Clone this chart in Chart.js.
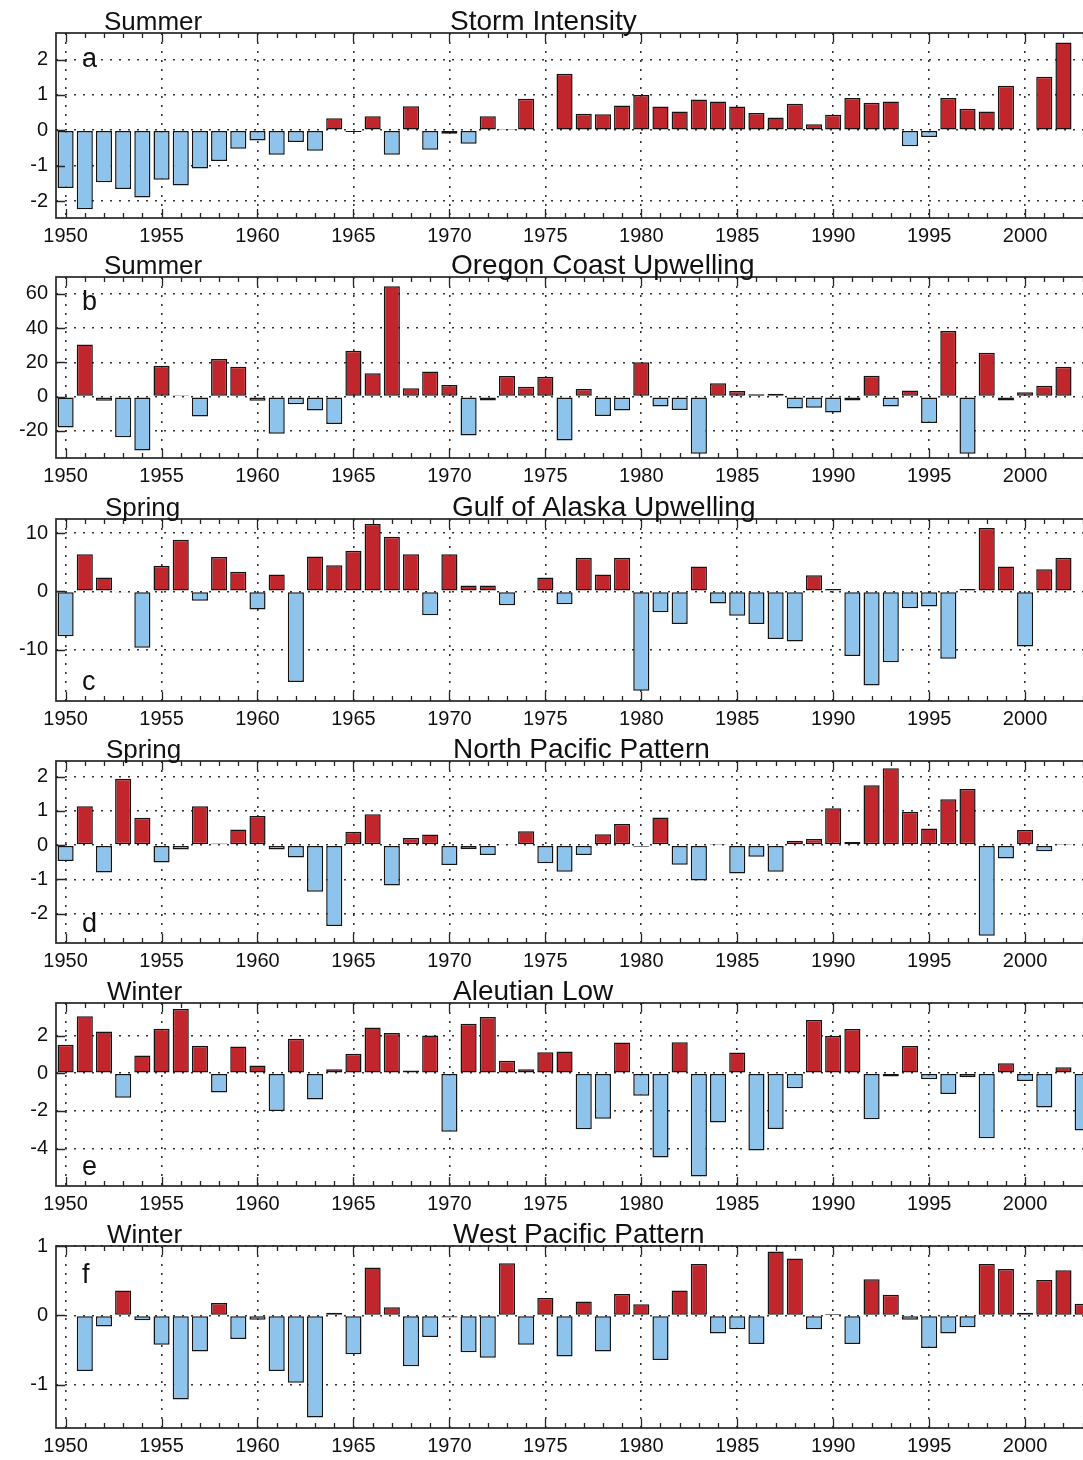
<!DOCTYPE html>
<html>
<head>
<meta charset="utf-8">
<title>North Pacific indices</title>
<script src="https://cdn.jsdelivr.net/npm/chart.js@4.4.0/dist/chart.umd.min.js"></script>
<style>
  html, body { margin: 0; padding: 0; background: #fff; overflow: hidden; width: 1083px; height: 1460px; }
  canvas.panel { position: absolute; left: 0; }
</style>
</head>
<body>
<canvas id="panel-a" class="panel"></canvas>
<canvas id="panel-b" class="panel"></canvas>
<canvas id="panel-c" class="panel"></canvas>
<canvas id="panel-d" class="panel"></canvas>
<canvas id="panel-e" class="panel"></canvas>
<canvas id="panel-f" class="panel"></canvas>
<script>
// years on the x axis (one bar per year)
const years = [
    1950, 1951, 1952, 1953, 1954, 1955, 1956, 1957, 1958, 1959,
    1960, 1961, 1962, 1963, 1964, 1965, 1966, 1967, 1968, 1969,
    1970, 1971, 1972, 1973, 1974, 1975, 1976, 1977, 1978, 1979,
    1980, 1981, 1982, 1983, 1984, 1985, 1986, 1987, 1988, 1989,
    1990, 1991, 1992, 1993, 1994, 1995, 1996, 1997, 1998, 1999,
    2000, 2001, 2002, 2003,
];
const xTicks = [1950, 1955, 1960, 1965, 1970, 1975, 1980, 1985, 1990, 1995, 2000];

// a: summer storm intensity, 1950-2002
const stormIntensity = [
    -1.63, -2.23, -1.47, -1.66, -1.90, -1.40, -1.56, -1.08, -0.87, -0.52,
    -0.29, -0.69, -0.33, -0.58, 0.34, -0.05, 0.40, -0.69, 0.68, -0.55,
    -0.10, -0.38, 0.40, 0.01, 0.89, 0.03, 1.60, 0.47, 0.45, 0.70,
    1.00, 0.67, 0.53, 0.87, 0.81, 0.67, 0.49, 0.36, 0.75, 0.17,
    0.44, 0.91, 0.78, 0.81, -0.45, -0.19, 0.91, 0.61, 0.53, 1.26,
    0.02, 1.51, 2.48,
];
const stormTicks = [-2, -1, 0, 1, 2];

// b: summer Oregon coast upwelling, 1950-2002
const oregonUpwelling = [
    -18, 30.5, -2.5, -23.7, -31.5, 18, 0.8, -11.7, 22, 17.5,
    -2.5, -21.7, -4.5, -8.2, -16, 26.8, 13.6, 64.5, 4.9, 14.6,
    6.8, -22.7, -2.3, 12, 5.8, 11.6, -25.6, 4.5, -11.3, -8.2,
    20, -5.8, -7.8, -33.4, 7.8, 3.3, 1.4, 1.7, -7, -6.6,
    -9.3, -2.3, 12.2, -5.8, 3.5, -15.5, 38.4, -33.4, 25.6, -2.3,
    2.5, 6.4, 17.5,
];
const oregonTicks = [-20, 0, 20, 40, 60];

// c: spring Gulf of Alaska upwelling, 1950-2002
const alaskaUpwelling = [
    -7.7, 6.4, 2.4, -0.2, -9.7, 4.4, 8.9, -1.6, 5.9, 3.4,
    -3.1, 2.9, -15.6, 6.0, 4.5, 7.0, 11.6, 9.4, 6.4, -4.1,
    6.4, 1.0, 1.0, -2.4, 0.2, 2.4, -2.2, 5.8, 2.9, 5.8,
    -17.1, -3.6, -5.6, 4.3, -2.1, -4.2, -5.6, -8.2, -8.6, 2.8,
    0.4, -11.1, -16.2, -12.2, -2.9, -2.6, -11.6, 0.4, 10.9, 4.3,
    -9.5, 3.8, 5.8,
];
const alaskaTicks = [-10, 0, 10];

// d: spring North Pacific pattern, 1950-2002
const northPacific = [
    -0.46, 1.14, -0.80, 1.94, 0.80, -0.51, -0.13, 1.14, 0.05, 0.46,
    0.85, -0.13, -0.36, -1.36, -2.36, 0.39, 0.90, -1.18, 0.21, 0.31,
    -0.58, -0.12, -0.29, 0.02, 0.41, -0.53, -0.78, -0.29, 0.32, 0.62,
    -0.05, 0.81, -0.57, -1.03, 0.01, -0.83, -0.34, -0.78, 0.13, 0.18,
    1.08, 0.09, 1.75, 2.25, 0.98, 0.49, 1.34, 1.64, -2.65, -0.39,
    0.44, -0.18, 0.01,
];
const northPacificTicks = [-2, -1, 0, 1, 2];

// e: winter Aleutian Low, 1950-2003
const aleutianLow = [
    1.51, 3.02, 2.22, -1.30, 0.94, 2.36, 3.41, 1.46, -1.03, 1.42,
    0.41, -2.00, 1.83, -1.39, 0.21, 1.03, 2.43, 2.13, 0.14, 2.00,
    -3.11, 2.63, 2.98, 0.66, 0.21, 1.12, 1.15, -2.97, -2.42, 1.63,
    -1.20, -4.48, 1.65, -5.49, -2.62, 1.10, -4.10, -2.96, -0.80, 2.83,
    1.98, 2.35, -2.44, -0.18, 1.45, -0.32, -1.10, -0.21, -3.45, 0.53,
    -0.41, -1.82, 0.32, -3.04,
];
const aleutianTicks = [-4, -2, 0, 2];

// f: winter West Pacific pattern, 1950-2003 (no value for 1950)
const westPacific = [
    null, -0.80, -0.16, 0.36, -0.07, -0.42, -1.21, -0.52, 0.18, -0.34,
    -0.06, -0.80, -0.97, -1.47, 0.04, -0.56, 0.69, 0.12, -0.73, -0.31,
    -0.03, -0.53, -0.61, 0.75, -0.42, 0.25, -0.59, 0.20, -0.52, 0.31,
    0.16, -0.64, 0.36, 0.74, -0.26, -0.20, -0.41, 0.92, 0.82, -0.20,
    0.02, -0.41, 0.52, 0.30, -0.06, -0.47, -0.26, -0.17, 0.74, 0.67,
    0.04, 0.51, 0.65, 0.17,
];
const westPacificTicks = [-1, 0, 1];

const RED = '#c1262c';
const BLUE = '#8ec4eb';
const INK = '#111';
const FONT = '"Liberation Sans", Arial, Helvetica, sans-serif';

const CANVAS_W = 1100;
const AXIS_W = 56;      // width reserved for y labels
const PAD_TOP = 36;     // room above the frame for the titles
const X_AXIS_H = 34;    // room below the frame for year labels
const PX_PER_YEAR = 19.19;
const X_MIN = 1949.5;
const X_MAX = X_MIN + (CANVAS_W - AXIS_W) / PX_PER_YEAR;

Chart.defaults.font.family = FONT;
Chart.defaults.color = INK;

// frame, inward tick marks, season/title and panel letter
const frameDecor = {
    id: 'frameDecor',
    afterDraw(chart, args, opts) {
        const { ctx, chartArea: a } = chart;
        const x = chart.scales.x;
        const y = chart.scales.y;
        ctx.save();
        ctx.strokeStyle = '#262626';
        ctx.lineWidth = 1.7;
        ctx.strokeRect(a.left, a.top, a.right - a.left, a.bottom - a.top);

        ctx.lineWidth = 1.3;
        ctx.beginPath();
        years.forEach(yr => {
            const px = Math.round(x.getPixelForValue(yr)) + 0.5;
            if (px < a.left || px > a.right) return;
            const len = yr % 5 === 0 ? 9 : 5;
            ctx.moveTo(px, a.bottom); ctx.lineTo(px, a.bottom - len);
            ctx.moveTo(px, a.top); ctx.lineTo(px, a.top + len);
        });
        opts.yTicks.forEach(v => {
            const py = Math.round(y.getPixelForValue(v)) + 0.5;
            ctx.moveTo(a.left, py); ctx.lineTo(a.left + 9, py);
        });
        ctx.stroke();

        ctx.fillStyle = INK;
        ctx.textBaseline = 'alphabetic';
        ctx.textAlign = 'left';
        ctx.font = '26px ' + FONT;
        ctx.fillText(opts.season, opts.seasonX, a.top - 3);
        ctx.font = '28px ' + FONT;
        ctx.fillText(opts.title, opts.titleX, a.top - 3);

        ctx.font = '27px ' + FONT;
        const ly = opts.letterTop ? a.top + opts.letterOffset : a.bottom - opts.letterOffset;
        ctx.fillText(opts.letter, 82, ly);
        ctx.restore();
    }
};

const panels = [
    { id: 'panel-a', letter: 'a', season: 'Summer', title: 'Storm Intensity', values: stormIntensity, ticks: stormTicks,
      min: -2.48, max: 2.75, top: 33, bottom: 218, seasonX: 104, titleX: 450, letterTop: true, letterOffset: 34 },
    { id: 'panel-b', letter: 'b', season: 'Summer', title: 'Oregon Coast Upwelling', values: oregonUpwelling, ticks: oregonTicks,
      min: -35.9, max: 69.9, top: 277, bottom: 458, seasonX: 104, titleX: 451, letterTop: true, letterOffset: 33 },
    { id: 'panel-c', letter: 'c', season: 'Spring', title: 'Gulf of Alaska Upwelling', values: alaskaUpwelling, ticks: alaskaTicks,
      min: -18.86, max: 12.46, top: 519, bottom: 701, seasonX: 105, titleX: 452, letterTop: false, letterOffset: 11 },
    { id: 'panel-d', letter: 'd', season: 'Spring', title: 'North Pacific Pattern', values: northPacific, ticks: northPacificTicks,
      min: -2.86, max: 2.46, top: 761, bottom: 943, seasonX: 106, titleX: 453, letterTop: false, letterOffset: 11 },
    { id: 'panel-e', letter: 'e', season: 'Winter', title: 'Aleutian Low', values: aleutianLow, ticks: aleutianTicks,
      min: -5.99, max: 3.73, top: 1003, bottom: 1186, seasonX: 107, titleX: 453, letterTop: false, letterOffset: 11 },
    { id: 'panel-f', letter: 'f', season: 'Winter', title: 'West Pacific Pattern', values: westPacific, ticks: westPacificTicks,
      min: -1.62, max: 1.0, top: 1246, bottom: 1428, seasonX: 107, titleX: 453, letterTop: true, letterOffset: 37 },
];

function renderPanel(p) {
    const canvas = document.getElementById(p.id);
    const h = p.bottom - p.top + PAD_TOP + X_AXIS_H;
    canvas.width = CANVAS_W;
    canvas.height = h;
    canvas.style.top = (p.top - PAD_TOP) + 'px';

    const points = [];
    years.forEach((yr, i) => {
        if (i < p.values.length) points.push({ x: yr, y: p.values[i] });
    });

    new Chart(canvas, {
        type: 'bar',
        data: {
            datasets: [{
                data: points,
                backgroundColor: c => (c.raw && c.raw.y < 0) ? BLUE : RED,
                borderColor: '#141414',
                borderWidth: 1.5,
                borderSkipped: false,
                barPercentage: 0.84,
                categoryPercentage: 1,
            }],
        },
        options: {
            responsive: false,
            animation: false,
            events: [],
            layout: { padding: { top: PAD_TOP, left: 0, right: 0, bottom: 0 } },
            plugins: {
                legend: { display: false },
                tooltip: { enabled: false },
                frameDecor: {
                    yTicks: p.ticks, season: p.season, title: p.title, letter: p.letter,
                    seasonX: p.seasonX, titleX: p.titleX, letterTop: p.letterTop, letterOffset: p.letterOffset,
                },
            },
            scales: {
                x: {
                    type: 'linear',
                    offset: false,
                    min: X_MIN,
                    max: X_MAX,
                    afterBuildTicks: s => { s.ticks = xTicks.map(v => ({ value: v })); },
                    afterFit: s => { s.height = X_AXIS_H; },
                    ticks: { color: INK, font: { size: 20 }, padding: 6, maxRotation: 0, autoSkip: false, callback: v => String(v) },
                    grid: { color: '#333', lineWidth: 1.6, drawTicks: false, offset: false },
                    border: { display: false, dash: [2, 7] },
                },
                y: {
                    min: p.min,
                    max: p.max,
                    afterBuildTicks: s => { s.ticks = p.ticks.map(v => ({ value: v })); },
                    afterFit: s => { s.width = AXIS_W; },
                    ticks: { color: INK, font: { size: 20 }, padding: 8, callback: v => String(v) },
                    grid: { color: '#333', lineWidth: 1.6, drawTicks: false },
                    border: { display: false, dash: [2, 7] },
                },
            },
        },
        plugins: [frameDecor],
    });
}

panels.forEach(renderPanel);
</script>
</body>
</html>
